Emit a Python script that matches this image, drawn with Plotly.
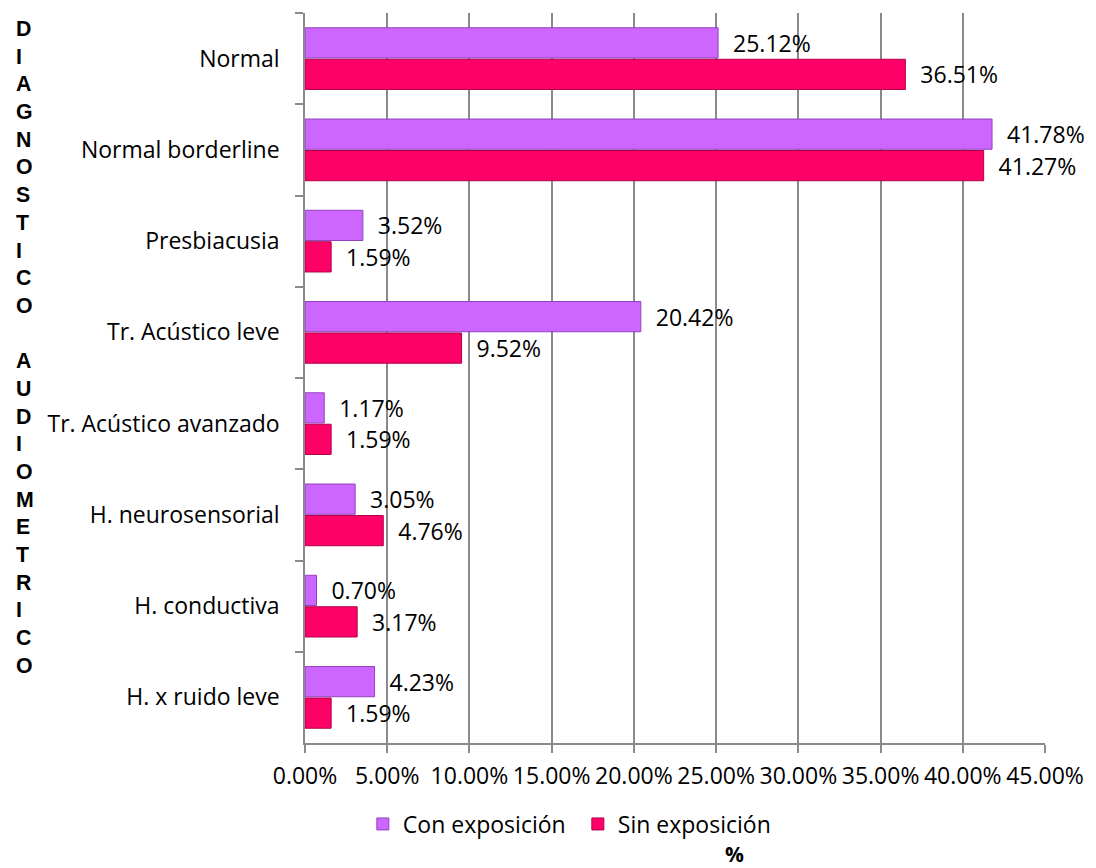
import plotly.graph_objects as go

categories = ["Normal", "Normal borderline", "Presbiacusia", "Tr. Acústico leve",
              "Tr. Acústico avanzado", "H. neurosensorial", "H. conductiva", "H. x ruido leve"]
con_exposicion = [25.12, 41.78, 3.52, 20.42, 1.17, 3.05, 0.70, 4.23]
sin_exposicion = [36.51, 41.27, 1.59, 9.52, 1.59, 4.76, 3.17, 1.59]
series_names = ["Con exposición", "Sin exposición"]
x_ticks = [0, 5, 10, 15, 20, 25, 30, 35, 40, 45]
x_tick_labels = ["0.00%", "5.00%", "10.00%", "15.00%", "20.00%",
                 "25.00%", "30.00%", "35.00%", "40.00%", "45.00%"]
y_title_letters = list("DIAGNOSTICO") + ["\u00a0"] + list("AUDIOMETRICO")
x_title = "%"

W, H = 1096, 868
ML, MR, MT, MB = 305, 49, 13, 125
PW, PH = W - ML - MR, H - MT - MB


def px_x(px):
    return (px - ML) / PW


def px_y(py):
    return (H - MB - py) / PH


FONT = "Open Sans"
GRID = "#8a8a8a"

fig = go.Figure()
for name, vals, col, line in [
    (series_names[0], con_exposicion, "#CC66FF", "#9440C0"),
    (series_names[1], sin_exposicion, "#FF0066", "#B0004A"),
]:
    fig.add_trace(go.Bar(
        name=name, y=categories, x=vals, orientation="h",
        marker=dict(color=col, line=dict(color=line, width=1)),
        texttemplate="\u00a0\u00a0%{x:.2f}%", textposition="outside",
        textfont=dict(family=FONT, size=23, color="#000000"),
        constraintext="none", cliponaxis=False,
    ))

fig.update_layout(
    width=W, height=H, barmode="group", bargap=0.31, bargroupgap=0.04,
    margin=dict(l=ML, r=MR, t=MT, b=MB),
    paper_bgcolor="white", plot_bgcolor="white",
    font=dict(family=FONT, size=23, color="#000000"),
    showlegend=True,
    legend=dict(orientation="h", x=px_x(363), xanchor="left",
                y=px_y(824), yanchor="middle", entrywidth=170,
                font=dict(family=FONT, size=23, color="#000000"),
                traceorder="normal"),
    xaxis=dict(range=[0, 45], tickmode="array", tickvals=x_ticks, ticktext=x_tick_labels,
               showgrid=True, gridcolor=GRID, gridwidth=1.5,
               showline=True, linecolor=GRID, linewidth=1.5,
               ticks="outside", ticklen=8, tickcolor=GRID, tickwidth=1.5,
               ticklabelstandoff=4,
               zeroline=False, tickfont=dict(family=FONT, size=23, color="#000000")),
    yaxis=dict(categoryorder="array", categoryarray=categories, autorange="reversed",
               showgrid=False, showline=True, linecolor=GRID, linewidth=1.5,
               ticks="outside", tickson="boundaries", ticklen=8, tickcolor=GRID, tickwidth=1.5,
               ticklabelstandoff=19,
               tickfont=dict(family=FONT, size=23, color="#000000")),
)

fig.add_annotation(
    text="<b>" + "</b><br><b>".join(y_title_letters) + "</b>", xref="paper", yref="paper",
    x=px_x(13), y=px_y(348), xanchor="left", yanchor="middle", align="left",
    showarrow=False, font=dict(family="Liberation Sans", size=21.3, color="#000000"),
)
fig.add_annotation(
    text="<b>" + x_title + "</b>", xref="paper", yref="paper",
    x=px_x(736), y=px_y(869), xanchor="center", yanchor="bottom",
    showarrow=False, font=dict(family=FONT, size=21, color="#000000"),
    borderpad=0,
)

fig.write_html("out.html")
